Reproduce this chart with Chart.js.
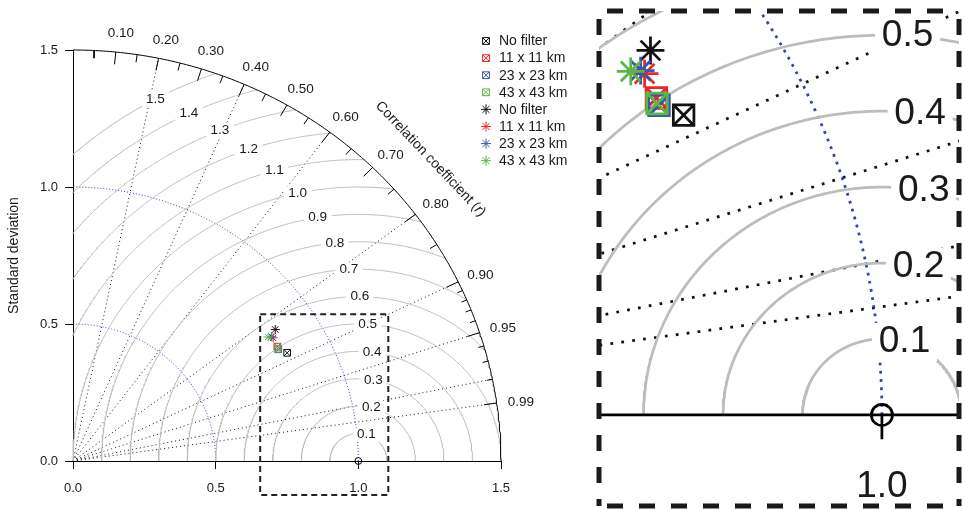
<!DOCTYPE html>
<html>
<head>
<meta charset="utf-8">
<title>Taylor diagram</title>
<script src="https://cdn.jsdelivr.net/npm/chart.js@4.4.1/dist/chart.umd.min.js"></script>
<style>
  html, body { margin: 0; padding: 0; background: #fff; }
  #wrap { position: relative; width: 962px; height: 509px; }
  #mainChart { position: absolute; left: 0; top: 0; }
  #zoomChart { position: absolute; left: 590px; top: 0; }
</style>
</head>
<body>
<div id="wrap">
  <canvas id="mainChart" width="590" height="509"></canvas>
  <canvas id="zoomChart" width="372" height="509"></canvas>
</div>
<script>
const FONT = "'Liberation Sans', Arial, Helvetica, sans-serif";
const INK = '#1a1a1a';

// filters
const seriesNames = ['No filter', '11 x 11 km', '23 x 23 km', '43 x 43 km'];
const seriesColors = ['#111111', '#e8262d', '#3b55a8', '#5cb646'];

// set 1 (square with cross)
const squareSd = [0.848, 0.829, 0.827, 0.826];
const squareCorr = [0.885, 0.864, 0.870, 0.868];
// set 2 (asterisk)
const starSd = [0.856, 0.833, 0.831, 0.820];
const starCorr = [0.828, 0.842, 0.838, 0.834];

// reference (observations)
const refSd = 1.0;

// axes / grid
const sdMax = 1.5;
const sdTicks = [0, 0.5, 1.0, 1.5];
const sdArcs = [0.5, 1.0];
const rmsLevels = [0.1, 0.2, 0.3, 0.4, 0.5, 0.6, 0.7, 0.8, 0.9, 1.0, 1.1, 1.2, 1.3, 1.4, 1.5];
const corrLabels = [0.1, 0.2, 0.3, 0.4, 0.5, 0.6, 0.7, 0.8, 0.9, 0.95, 0.99];
const corrMedTicks = [0.05, 0.15, 0.25, 0.35, 0.45, 0.55, 0.65, 0.75, 0.85];
const corrSmallTicks = [0.91, 0.92, 0.93, 0.94, 0.96, 0.97, 0.98];
const corrLines = [0.2, 0.4, 0.6, 0.8, 0.9, 0.95, 0.98, 0.99];

// zoomed window (right panel) and its outline on the main panel
const zoomX = [0.644, 1.097];
const zoomY = [-0.120, 0.532];
const boxX = [0.656, 1.105];
const boxY = [-0.124, 0.536];

// where the rms labels sit along each arc (degrees)
const labelAngle0 = 73.5;
const labelAngleStep = 3.2;

function polar(sd, c) {
    return { x: sd * c, y: sd * Math.sqrt(1 - c * c) };
}

function arc(cx, r, a0, a1) {
    const pts = [];
    const n = 240;
    for (let i = 0; i <= n; i++) {
        const a = a0 + (a1 - a0) * i / n;
        pts.push({ x: cx + r * Math.cos(a), y: r * Math.sin(a) });
    }
    return pts;
}

function tickSegments(list, len) {
    const pts = [];
    list.forEach(function (c) {
        pts.push(polar(sdMax, c));
        pts.push(polar(sdMax - len, c));
        pts.push({ x: 0, y: null });
    });
    return pts;
}

function lineSet(data, color, width, dash, order) {
    return {
        data: data,
        showLine: true,
        borderColor: color,
        borderWidth: width,
        borderDash: dash,
        pointRadius: 0,
        pointHoverRadius: 0,
        fill: false,
        tension: 0,
        order: order
    };
}

function markSet(p, style, color, r, lw, order) {
    return {
        data: [p],
        showLine: false,
        pointStyle: style,
        pointRadius: r,
        pointHoverRadius: r,
        pointBorderColor: color,
        pointBackgroundColor: 'rgba(0,0,0,0)',
        pointBorderWidth: lw,
        order: order
    };
}

function buildDatasets(k, mk, inset) {
    const sets = [];
    rmsLevels.forEach(function (g) {
        let a0 = 0;
        if (g > sdMax - refSd) {
            const xi = (sdMax * sdMax + refSd * refSd - g * g) / (2 * refSd);
            const yi = Math.sqrt(sdMax * sdMax - xi * xi);
            a0 = Math.atan2(yi, xi - refSd);
        }
        const a1 = g < refSd ? Math.PI : Math.acos(-refSd / g);
        sets.push(lineSet(arc(refSd, g, a0, a1), '#bdbdbd', k, [], 30));
    });
    sdArcs.forEach(function (s) {
        sets.push(lineSet(arc(0, s, 0, Math.PI / 2), '#2f3fc0', k, [k, 2 * k], 30));
    });
    corrLines.forEach(function (c) {
        sets.push(lineSet([{ x: 0, y: 0 }, polar(sdMax, c)], '#111111', k, [k, 3 * k], 30));
    });
    sets.push(lineSet(arc(0, sdMax, 0, Math.PI / 2), '#000000', k, [], 25));
    sets.push(lineSet(tickSegments(corrLabels, 0.045), '#000000', k, [], 25));
    sets.push(lineSet(tickSegments(corrMedTicks, 0.028), '#000000', k, [], 25));
    sets.push(lineSet(tickSegments(corrSmallTicks, 0.02), '#000000', k, [], 25));
    if (inset) {
        sets.push(lineSet([{ x: 0, y: 0 }, { x: sdMax, y: 0 }], '#000000', k, [], 25));
        sets.push(lineSet([{ x: refSd, y: 0 }, { x: refSd, y: -0.032 }], '#000000', k, [], 25));
    } else {
        sets.push(lineSet([
            { x: boxX[0], y: boxY[1] }, { x: boxX[1], y: boxY[1] },
            { x: boxX[1], y: boxY[0] }, { x: boxX[0], y: boxY[0] },
            { x: boxX[0], y: boxY[1] }
        ], '#222222', 2, [6, 4], 10));
    }
    // reference point
    sets.push(markSet({ x: refSd, y: 0 }, 'circle', '#000000', 3.4 * mk, k, 9));
    // set 1: squares with cross, then set 2: asterisks (last drawn on top)
    for (let i = 0; i < seriesNames.length; i++) {
        const p = polar(squareSd[i], squareCorr[i]);
        sets.push(markSet(p, 'rect', seriesColors[i], 4.7 * mk, k, 8 - i));
        sets.push(markSet(p, 'crossRot', seriesColors[i], 4.7 * mk, k, 8 - i));
    }
    for (let i = 0; i < seriesNames.length; i++) {
        const p = polar(starSd[i], starCorr[i]);
        sets.push(markSet(p, 'star', seriesColors[i], 4.5 * mk, k, 4 - i));
    }
    sets.forEach(function (s) { s.clip = inset ? 0 : false; });
    return sets;
}

function boxedLabel(ctx, text, px, py, size) {
    ctx.font = size + 'px ' + FONT;
    const w = ctx.measureText(text).width;
    const pad = 3 + 0.1 * size;
    ctx.fillStyle = '#ffffff';
    ctx.fillRect(px - w / 2 - pad, py - size * 0.52, w + 2 * pad, size * 1.04);
    ctx.fillStyle = INK;
    ctx.textAlign = 'center';
    ctx.textBaseline = 'middle';
    ctx.fillText(text, px, py);
}

function drawRmsLabels(chart, k) {
    const ctx = chart.ctx;
    const xs = chart.scales.x, ys = chart.scales.y;
    ctx.save();
    rmsLevels.forEach(function (g, i) {
        const a = (labelAngle0 + labelAngleStep * i) * Math.PI / 180;
        const px = xs.getPixelForValue(refSd + g * Math.cos(a));
        const py = ys.getPixelForValue(g * Math.sin(a));
        boxedLabel(ctx, g.toFixed(1), px, py, 13.5 * k);
    });
    ctx.restore();
}

const rmsLabelPlugin = {
    id: 'rmsLabels',
    beforeDraw(chart) { chart.$rmsDone = false; },
    beforeDatasetDraw(chart, args, opts) {
        const ds = chart.data.datasets[args.index];
        if (chart.$rmsDone || ds.order >= 20) return;
        chart.$rmsDone = true;
        const area = chart.chartArea;
        chart.ctx.save();
        if (opts.clip) {
            chart.ctx.beginPath();
            chart.ctx.rect(area.left, area.top, area.right - area.left, area.bottom - area.top);
            chart.ctx.clip();
        }
        drawRmsLabels(chart, opts.k);
        chart.ctx.restore();
    }
};

function drawSymbol(ctx, kind, x, y, r, color) {
    ctx.save();
    ctx.strokeStyle = color;
    ctx.lineWidth = 1;
    ctx.beginPath();
    const h = r * Math.SQRT1_2;
    if (kind === 'square') {
        ctx.rect(x - h, y - h, 2 * h, 2 * h);
        ctx.moveTo(x - h, y - h); ctx.lineTo(x + h, y + h);
        ctx.moveTo(x + h, y - h); ctx.lineTo(x - h, y + h);
    } else {
        ctx.moveTo(x - r, y); ctx.lineTo(x + r, y);
        ctx.moveTo(x, y - r); ctx.lineTo(x, y + r);
        ctx.moveTo(x - h, y - h); ctx.lineTo(x + h, y + h);
        ctx.moveTo(x + h, y - h); ctx.lineTo(x - h, y + h);
    }
    ctx.stroke();
    ctx.restore();
}

const mainDecor = {
    id: 'mainDecor',
    afterDraw(chart) {
        const ctx = chart.ctx;
        const xs = chart.scales.x, ys = chart.scales.y;
        ctx.save();
        // correlation labels outside the arc
        ctx.font = '13.5px ' + FONT;
        ctx.fillStyle = INK;
        ctx.textAlign = 'center';
        ctx.textBaseline = 'middle';
        corrLabels.forEach(function (c) {
            const p = polar(1.575, c);
            ctx.fillText(c.toFixed(2), xs.getPixelForValue(p.x) + 3, ys.getPixelForValue(p.y) + 2);
        });
        // correlation axis title
        ctx.save();
        ctx.translate(xs.getPixelForValue(1.253), ys.getPixelForValue(1.102));
        ctx.rotate(46.5 * Math.PI / 180);
        const a = 'Correlation coefficient (', b = 'r', c = ')';
        ctx.font = '14px ' + FONT;
        const wa = ctx.measureText(a).width, wc = ctx.measureText(c).width;
        ctx.font = 'italic 14px ' + FONT;
        const wb = ctx.measureText(b).width;
        let x = -(wa + wb + wc) / 2;
        ctx.textAlign = 'left';
        ctx.font = '14px ' + FONT;
        ctx.fillText(a, x, 0);
        ctx.font = 'italic 14px ' + FONT;
        ctx.fillText(b, x + wa, 0);
        ctx.font = '14px ' + FONT;
        ctx.fillText(c, x + wa + wb, 0);
        ctx.restore();
        // legend
        ctx.font = '14px ' + FONT;
        ctx.textAlign = 'left';
        ctx.textBaseline = 'middle';
        const entries = [];
        seriesNames.forEach(function (n, i) { entries.push(['square', n, seriesColors[i]]); });
        seriesNames.forEach(function (n, i) { entries.push(['star', n, seriesColors[i]]); });
        entries.forEach(function (e, i) {
            const y = 41 + i * 17.1;
            drawSymbol(ctx, e[0], 486, y, e[0] === 'square' ? 4.8 : 5, e[2]);
            ctx.fillStyle = INK;
            ctx.fillText(e[1], 499, y + 0.5);
        });
        ctx.restore();
    }
};

const insetDecor = {
    id: 'insetDecor',
    afterDraw(chart) {
        const ctx = chart.ctx;
        const area = chart.chartArea;
        const xs = chart.scales.x, ys = chart.scales.y;
        ctx.save();
        ctx.font = '37px ' + FONT;
        ctx.fillStyle = INK;
        ctx.textAlign = 'center';
        ctx.textBaseline = 'middle';
        ctx.fillText(refSd.toFixed(1), xs.getPixelForValue(refSd), ys.getPixelForValue(-0.095));
        // dashed frame
        ctx.strokeStyle = INK;
        ctx.lineWidth = 5;
        ctx.setLineDash([16, 16]);
        ctx.lineDashOffset = 24;
        const edges = [
            [area.left, area.top, area.right, area.top],
            [area.left, area.top, area.left, area.bottom],
            [area.right, area.top, area.right, area.bottom],
            [area.left, area.bottom, area.right, area.bottom]
        ];
        edges.forEach(function (e) {
            ctx.beginPath();
            ctx.moveTo(e[0], e[1]);
            ctx.lineTo(e[2], e[3]);
            ctx.stroke();
        });
        ctx.restore();
    }
};

Chart.defaults.font.family = FONT;
Chart.defaults.color = INK;

const mainChart = new Chart(document.getElementById('mainChart'), {
    type: 'scatter',
    data: { datasets: buildDatasets(1, 1, false) },
    options: {
        responsive: false,
        animation: false,
        events: [],
        layout: { autoPadding: false, padding: { left: 0, top: 50, right: 89, bottom: 0 } },
        scales: {
            x: {
                type: 'linear', min: 0, max: sdMax,
                afterFit: function (s) { s.height = 48; },
                border: { display: true, color: '#000', width: 1 },
                grid: { display: true, drawOnChartArea: false, drawTicks: true, tickLength: 8, color: '#000' },
                ticks: {
                    stepSize: 0.5, autoSkip: false, maxRotation: 0, padding: 12,
                    font: { size: 13 }, color: INK,
                    callback: function (v) { return sdTicks.indexOf(v) >= 0 ? v.toFixed(1) : ''; }
                }
            },
            y: {
                type: 'linear', min: 0, max: sdMax,
                afterFit: function (s) { s.width = 73; },
                border: { display: true, color: '#000', width: 1 },
                grid: { display: true, drawOnChartArea: false, drawTicks: true, tickLength: 8, color: '#000' },
                ticks: {
                    stepSize: 0.5, autoSkip: false, padding: 7,
                    font: { size: 13 }, color: INK,
                    callback: function (v) { return sdTicks.indexOf(v) >= 0 ? v.toFixed(1) : ''; }
                },
                title: { display: true, text: 'Standard deviation', font: { size: 14 }, color: INK, padding: { top: 6, bottom: 0 } }
            }
        },
        plugins: {
            legend: { display: false },
            tooltip: { enabled: false },
            rmsLabels: { k: 1, clip: false }
        }
    },
    plugins: [rmsLabelPlugin, mainDecor]
});

const zoomChart = new Chart(document.getElementById('zoomChart'), {
    type: 'scatter',
    data: { datasets: buildDatasets(2.75, 3.1, true) },
    options: {
        responsive: false,
        animation: false,
        events: [],
        layout: { autoPadding: false, padding: { left: 9, top: 11, right: 3, bottom: 3 } },
        scales: {
            x: { type: 'linear', min: zoomX[0], max: zoomX[1], display: false },
            y: { type: 'linear', min: zoomY[0], max: zoomY[1], display: false }
        },
        plugins: {
            legend: { display: false },
            tooltip: { enabled: false },
            rmsLabels: { k: 2.75, clip: true }
        }
    },
    plugins: [rmsLabelPlugin, insetDecor]
});
</script>
</body>
</html>
